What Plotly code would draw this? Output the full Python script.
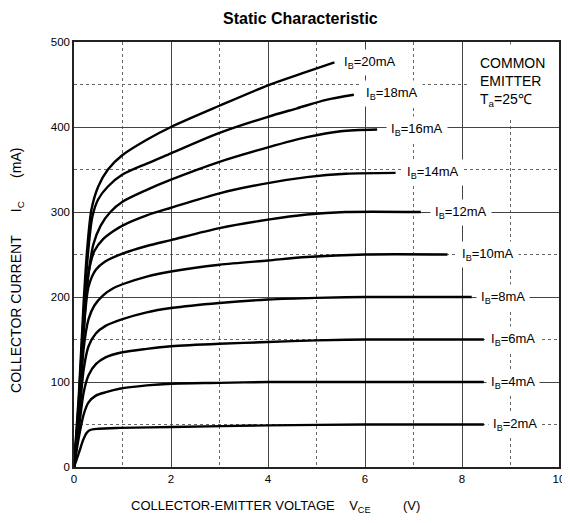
import plotly.graph_objects as go

# ---- data ----
ib_labels = ["20mA", "18mA", "16mA", "14mA", "12mA", "10mA", "8mA", "6mA", "4mA", "2mA"]

vce_20 = [0, 0.1, 0.2, 0.28, 0.36, 0.5, 0.7, 1.0, 1.5, 2.0, 3.0, 4.0, 4.7, 5.37]
ic_20 = [0, 85, 195, 262, 303, 330, 350, 367, 385, 400, 425, 449, 463, 476]

vce_18 = [0, 0.1, 0.2, 0.29, 0.38, 0.5, 0.7, 1.0, 1.5, 2.0, 3.0, 4.0, 4.6, 5.2, 5.77]
ic_18 = [0, 78, 180, 252, 295, 315, 330, 344, 357, 369, 393, 412, 422, 432, 438]

vce_16 = [0, 0.1, 0.2, 0.3, 0.4, 0.55, 0.75, 1.0, 1.5, 2.0, 3.0, 4.0, 4.8, 5.5, 6.25]
ic_16 = [0, 72, 170, 228, 262, 284, 300, 312, 326, 338, 359, 376, 388, 395, 397]

vce_14 = [0, 0.1, 0.2, 0.3, 0.42, 0.6, 0.8, 1.0, 1.5, 2.0, 3.0, 4.0, 4.8, 5.6, 6.63]
ic_14 = [0, 65, 160, 228, 254, 268, 277, 284, 296, 305, 322, 334, 341, 345, 346]

vce_12 = [0, 0.1, 0.2, 0.3, 0.45, 0.65, 1.0, 1.5, 2.0, 3.0, 4.0, 4.8, 5.6, 7.15]
ic_12 = [0, 62, 160, 212, 232, 242, 251, 260, 267, 281, 291, 297, 300, 300]

vce_10 = [0, 0.1, 0.2, 0.3, 0.42, 0.6, 0.8, 1.0, 1.5, 2.0, 3.0, 4.0, 4.8, 6.0, 7.7]
ic_10 = [0, 60, 140, 174, 190, 202, 210, 215, 224, 230, 238, 243, 247, 250, 250]

vce_8 = [0, 0.1, 0.2, 0.3, 0.45, 0.65, 1.0, 1.5, 2.0, 3.0, 4.0, 5.0, 6.0, 8.2]
ic_8 = [0, 55, 115, 142, 157, 166, 174, 182, 187, 193, 197, 199, 200, 200]

vce_6 = [0, 0.1, 0.2, 0.3, 0.45, 0.65, 1.0, 1.5, 2.0, 3.0, 4.0, 5.0, 6.0, 8.45]
ic_6 = [0, 45, 88, 108, 121, 129, 135, 139, 142, 145, 147, 149, 150, 150]

vce_4 = [0, 0.1, 0.2, 0.3, 0.45, 0.66, 0.94, 1.5, 2.0, 3.0, 4.0, 5.0, 8.45]
ic_4 = [0, 35, 62, 76, 84, 88, 92, 96, 98, 99, 100, 100, 100]

vce_2 = [0, 0.05, 0.12, 0.19, 0.26, 0.33, 0.5, 0.94, 2.0, 4.0, 6.0, 8.45]
ic_2 = [0, 8, 20, 32, 40, 43.5, 45, 46, 47, 49, 50, 50]

series = [(vce_20, ic_20), (vce_18, ic_18), (vce_16, ic_16), (vce_14, ic_14),
          (vce_12, ic_12), (vce_10, ic_10), (vce_8, ic_8), (vce_6, ic_6),
          (vce_4, ic_4), (vce_2, ic_2)]

# label anchor positions (data coords)
label_x = [5.47, 5.92, 6.43, 6.76, 7.35, 7.9, 8.29, 8.49, 8.49, 8.53]
label_y = [476, 439, 397, 346, 300, 250, 200, 150, 100, 50]

x_ticks = [0, 2, 4, 6, 8, 10]
y_ticks = [0, 100, 200, 300, 400, 500]

FONT = "Arial, Liberation Sans, sans-serif"

fig = go.Figure()
for (xs, ys), name in zip(series, ib_labels):
    fig.add_trace(go.Scatter(
        x=xs, y=ys, mode="lines", name=name,
        line=dict(color="black", width=2.4, shape="spline", smoothing=0.8),
        hoverinfo="skip", showlegend=False))

annotations = []
for name, lx, ly in zip(ib_labels, label_x, label_y):
    annotations.append(dict(
        x=lx, y=ly, xref="x", yref="y", xanchor="left", yanchor="middle",
        text="I<sub>B</sub>=" + name, showarrow=False,
        font=dict(family=FONT, size=13, color="black"),
        bgcolor="white", borderpad=4))

annotations.append(dict(
    x=8.14, y=498, xref="x", yref="y", xanchor="left", yanchor="top",
    text="COMMON<br>EMITTER<br>T<sub>a</sub>=25\u2103", showarrow=False, align="left",
    font=dict(family=FONT, size=14, color="black"),
    bgcolor="white", borderpad=10, width=68))

annotations.append(dict(
    x=0.468, y=1.056, xref="paper", yref="paper", xanchor="center", yanchor="middle",
    text="<b>Static Characteristic</b>", showarrow=False,
    font=dict(family=FONT, size=16, color="black")))

annotations.append(dict(
    x=0.114, y=-0.094, xref="paper", yref="paper", xanchor="left", yanchor="middle",
    text="COLLECTOR-EMITTER VOLTAGE    V<sub>CE</sub>         (V)", showarrow=False,
    font=dict(family=FONT, size=13, color="black")))

annotations.append(dict(
    x=-0.119, y=0.462, xref="paper", yref="paper", xanchor="center", yanchor="middle",
    text="COLLECTOR CURRENT      I<sub>C</sub>      (mA)", showarrow=False, textangle=-90,
    font=dict(family=FONT, size=14, color="black")))

# page body has an 8px margin, so the figure is 8px smaller and shifted
fig.update_layout(
    width=562, height=515,
    margin=dict(l=66, r=5, t=34, b=56),
    paper_bgcolor="white", plot_bgcolor="white",
    font=dict(family=FONT, size=11, color="black"),
    annotations=annotations,
    showlegend=False,
)

fig.update_xaxes(
    range=[0, 10], tickmode="array", tickvals=x_ticks, ticktext=[str(v) for v in x_ticks],
    showline=True, linecolor="#222", linewidth=1.5, mirror=True,
    showgrid=True, gridcolor="#444", gridwidth=1,
    minor=dict(dtick=1, showgrid=True, gridcolor="#666", griddash="dot", gridwidth=1),
    ticks="", zeroline=False, tickfont=dict(size=11.5, color="black"),
)
fig.update_yaxes(
    range=[0, 500], tickmode="array", tickvals=y_ticks, ticktext=[str(v) for v in y_ticks],
    showline=True, linecolor="#222", linewidth=1.5, mirror=True,
    showgrid=True, gridcolor="#444", gridwidth=1,
    minor=dict(dtick=50, showgrid=True, gridcolor="#666", griddash="dot", gridwidth=1),
    ticks="", zeroline=False, tickfont=dict(size=11.5, color="black"),
)

fig.write_html("out.html")
